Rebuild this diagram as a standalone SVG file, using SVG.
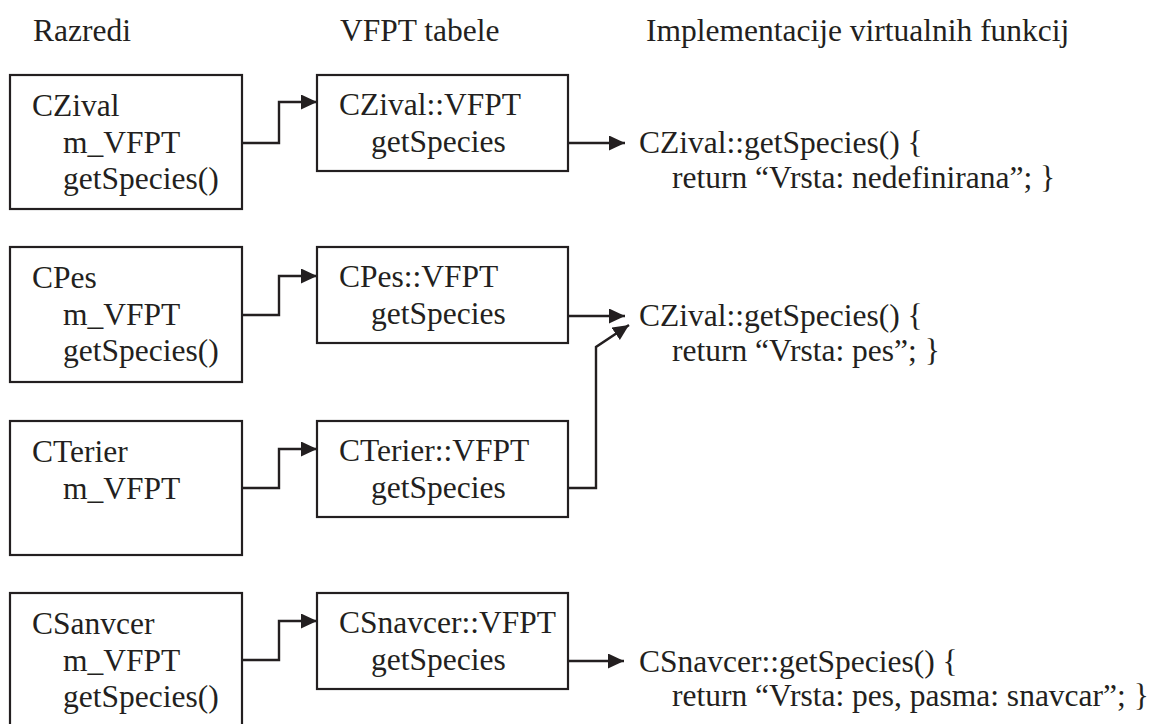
<svg xmlns="http://www.w3.org/2000/svg" width="1165" height="724" viewBox="0 0 1165 724">
  <style>
    text { font-family: 'Liberation Serif', 'DejaVu Serif', serif; font-size: 31.5px; fill: #231f20; }
    .box { fill: #ffffff; stroke: #231f20; stroke-width: 2.2; }
    .link { fill: none; stroke: #231f20; stroke-width: 2.4; marker-end: url(#head); }
  </style>
  <defs>
    <marker id="head" markerUnits="userSpaceOnUse" markerWidth="17" markerHeight="16" refX="16" refY="7.5" orient="auto">
      <path d="M0,0 L16,7.5 L0,15 z" fill="#231f20"/>
    </marker>
  </defs>
  <rect width="1165" height="724" fill="#ffffff"/>

  <!-- column headings -->
  <g id="headings">
    <text x="33" y="41">Razredi</text>
    <text x="340" y="41">VFPT tabele</text>
    <text x="646" y="41">Implementacije virtualnih funkcij</text>
  </g>

  <!-- class objects -->
  <g id="class-czival">
    <rect class="box" x="10" y="75" width="232" height="134"/>
    <text x="32" y="116">CZival</text>
    <text x="63" y="153">m_VFPT</text>
    <text x="63" y="189">getSpecies()</text>
  </g>
  <g id="class-cpes">
    <rect class="box" x="10" y="247" width="232" height="135"/>
    <text x="32" y="288">CPes</text>
    <text x="63" y="325">m_VFPT</text>
    <text x="63" y="361">getSpecies()</text>
  </g>
  <g id="class-cterier">
    <rect class="box" x="10" y="421" width="232" height="134"/>
    <text x="32" y="462">CTerier</text>
    <text x="63" y="499">m_VFPT</text>
  </g>
  <g id="class-csanvcer">
    <rect class="box" x="10" y="593" width="232" height="140"/>
    <text x="32" y="634">CSanvcer</text>
    <text x="63" y="671">m_VFPT</text>
    <text x="63" y="707">getSpecies()</text>
  </g>

  <!-- virtual function pointer tables -->
  <g id="vfpt-czival">
    <rect class="box" x="317" y="75" width="251" height="96"/>
    <text x="339" y="115">CZival::VFPT</text>
    <text x="371" y="152">getSpecies</text>
  </g>
  <g id="vfpt-cpes">
    <rect class="box" x="317" y="247" width="251" height="96"/>
    <text x="339" y="287">CPes::VFPT</text>
    <text x="371" y="324">getSpecies</text>
  </g>
  <g id="vfpt-cterier">
    <rect class="box" x="317" y="421" width="251" height="96"/>
    <text x="339" y="461">CTerier::VFPT</text>
    <text x="371" y="498">getSpecies</text>
  </g>
  <g id="vfpt-csnavcer">
    <rect class="box" x="317" y="593" width="251" height="96"/>
    <text x="339" y="633">CSnavcer::VFPT</text>
    <text x="371" y="670">getSpecies</text>
  </g>

  <!-- implementations -->
  <g id="impl-czival">
    <text x="639" y="153">CZival::getSpecies() {</text>
    <text x="672" y="188">return “Vrsta: nedefinirana”; }</text>
  </g>
  <g id="impl-cpes">
    <text x="639" y="326">CZival::getSpecies() {</text>
    <text x="672" y="361">return “Vrsta: pes”; }</text>
  </g>
  <g id="impl-csnavcer">
    <text x="639" y="672">CSnavcer::getSpecies() {</text>
    <text x="672" y="706">return “Vrsta: pes, pasma: snavcar”; }</text>
  </g>

  <!-- connectors -->
  <g id="connectors">
    <path class="link" d="M242,143 H279 V102 H317"/>
    <path class="link" d="M242,315 H279 V276 H317"/>
    <path class="link" d="M242,488 H279 V449 H317"/>
    <path class="link" d="M242,660 H279 V621 H317"/>
    <path class="link" d="M568,143 H625"/>
    <path class="link" d="M568,316 H625"/>
    <path class="link" d="M568,488 H596 V347 L629,325"/>
    <path class="link" d="M568,661 H624"/>
  </g>
</svg>
